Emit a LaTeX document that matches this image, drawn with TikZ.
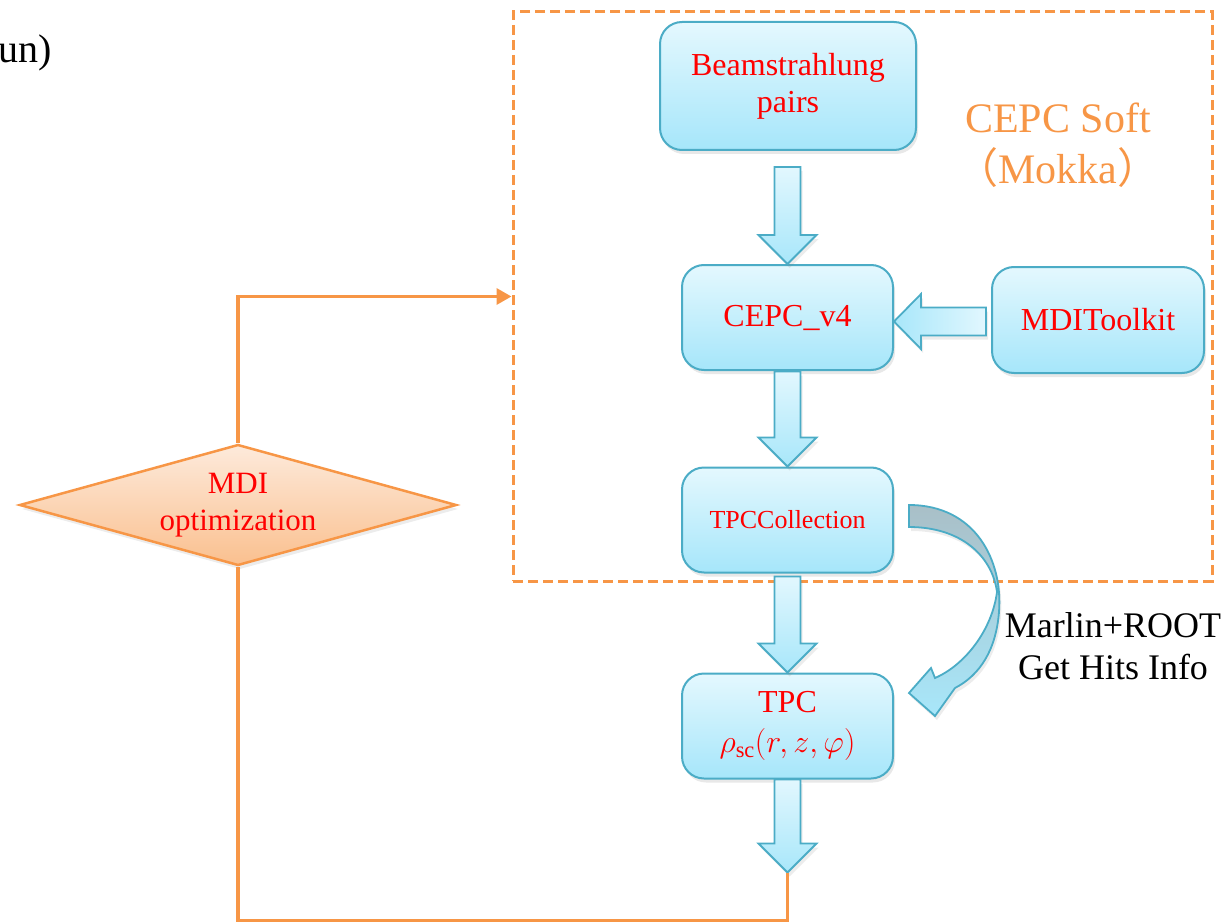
\RequirePackage{fix-cm}
\documentclass[tikz,border=0pt]{standalone}
\usepackage{fontspec}
\setmainfont{Liberation Serif}
\newfontfamily\cjk{Noto Sans CJK SC}
\usetikzlibrary{shapes.geometric,shadows,arrows.meta,calc}

\definecolor{boxline}{HTML}{4BACC6}
\definecolor{boxtop}{HTML}{E4F8FE}
\definecolor{boxbot}{HTML}{A6E6FA}
\definecolor{arrlight}{HTML}{E2F7FE}
\definecolor{arrdark}{HTML}{A8E7FA}
\definecolor{curvetop}{HTML}{A9BFC7}
\definecolor{softorange}{HTML}{F79646}
\definecolor{diatop}{HTML}{FDEADB}
\definecolor{diabot}{HTML}{FAC08F}

\tikzset{
  box/.style={draw=boxline, line width=2pt, rounded corners=22pt,
    top color=boxtop, bottom color=boxbot, minimum width=211pt,
    minimum height=105pt, align=center, text=red,
    font=\fontsize{32}{37}\selectfont,
    drop shadow={opacity=0.18, shadow xshift=2pt, shadow yshift=-4pt}},
  blockarrow/.style={draw=boxline, line width=1.8pt, line join=miter,
    drop shadow={opacity=0.15, shadow xshift=2pt, shadow yshift=-4pt}},
  flow/.style={draw=softorange, line width=3.5pt},
  pics/blockdown/.style={code={
    \path[blockarrow, top color=arrlight, bottom color=arrdark]
      (-13,-#1) -- (13,-#1) -- (13,-29) -- (29,-29) -- (0,0)
      -- (-29,-29) -- (-13,-29) -- cycle;}},
  pics/blockleft/.style={code={
    \path[blockarrow, left color=arrdark, right color=arrlight]
      (#1,-14) -- (#1,14) -- (27,14) -- (27,27.5) -- (0,0)
      -- (27,-27.5) -- (27,-14) -- cycle;}}
}

\begin{document}
\begin{tikzpicture}[x=1pt, y=-1pt]
  \useasboundingbox (0,0) rectangle (1232,923);

  \node[font=\fontsize{40}{48}\selectfont, anchor=base east, inner sep=0pt] (run) at (52,63) {un)};

  \node[draw=softorange, line width=3pt, dash pattern=on 10pt off 5pt,
    minimum width=699pt, minimum height=569pt] (soft) at (862.5,296.5) {};
  \node[text=softorange, font=\fontsize{42}{51}\selectfont, align=center] (softlabel)
    at (1058,145) {CEPC Soft\\{\cjk （}Mokka{\cjk ）}};

  \node[box, minimum width=256pt, minimum height=128pt] (beam) at (788,86) {Beamstrahlung\\pairs};
  \node[box] (v4) at (787.5,317.5) {CEPC\_v4};
  \node[box, minimum width=212pt, minimum height=106pt] (mdi) at (1098,320) {MDIToolkit};
  \node[box, font=\fontsize{26}{31}\selectfont] (coll) at (787.5,520) {TPCCollection};
  \node[box, font=\fontsize{32}{40}\selectfont] (tpc) at (787.5,726) {TPC\\$\rho_{\mathrm{sc}}(r,z,\varphi)$};
  \coordinate (out) at ($(tpc.south)+(0,93)$);

  \pic at (v4.north) {blockdown=97};
  \pic at (coll.north) {blockdown=95};
  \pic at (tpc.north) {blockdown=96};
  \pic at (out) {blockdown=93};
  \pic at ($(v4.east)+(0,4)$) {blockleft=92};

  \path[blockarrow, top color=curvetop, bottom color=arrdark]
    (909,505) .. controls (975,505) and (1003,560) .. (999,612)
    .. controls (996,650) and (980,675) .. (955,688) -- (935,716) -- (909,693)
    -- (931,668) -- (935,678) .. controls (965,665) and (992,630) .. (997,592)
    .. controls (992,555) and (960,527) .. (909,527) -- cycle;
  \node[font=\fontsize{36}{42}\selectfont, align=center] (hits) at (1113,646)
    {Marlin+ROOT\\Get Hits Info};

  \node[diamond, draw=softorange, line width=2.5pt, top color=diatop, bottom color=diabot,
    minimum width=437pt, minimum height=121pt, aspect=3.6, inner sep=0pt,
    text=red, font=\fontsize{31}{37}\selectfont, align=center,
    drop shadow={opacity=0.15, shadow xshift=2pt, shadow yshift=-4pt}] (opt) at (238,505)
    {MDI\\optimization};

  \draw[flow] (out) -- ++(0,48) -| (opt.south);
  \draw[flow, -{Triangle[length=15pt,width=16pt]}] (opt.north) |- (soft.west);
\end{tikzpicture}
\end{document}
